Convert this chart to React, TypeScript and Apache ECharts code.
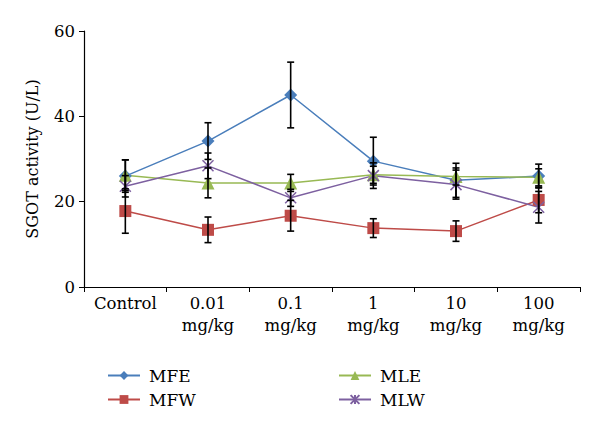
import React, { useEffect, useRef } from "react";
import * as echarts from "echarts";

const categories = ["Control", "0.01\nmg/kg", "0.1\nmg/kg", "1\nmg/kg", "10\nmg/kg", "100\nmg/kg"];
const mfe = [26.0, 34.2, 45.0, 29.5, 25.0, 26.0];
const mfeErr = [3.8, 4.3, 7.7, 5.6, 4.0, 2.8];
const mfw = [17.8, 13.4, 16.7, 13.8, 13.1, 20.4];
const mfwErr = [5.2, 3.0, 3.6, 2.2, 2.4, 3.0];
const mle = [26.2, 24.4, 24.4, 26.3, 25.9, 25.7];
const mleErr = [3.6, 3.5, 2.0, 2.0, 2.0, 2.0];
const mlw = [23.6, 28.4, 20.9, 26.1, 24.0, 18.7];
const mlwErr = [2.5, 3.0, 2.0, 3.0, 3.4, 3.7];

const FONT = "'DejaVu Serif', 'Liberation Serif', serif";

function errSeries(name: string, vals: number[], errs: number[]) {
  return {
    type: "custom",
    name: name + "_err",
    z: 10,
    silent: true,
    data: vals.map((v, i) => [i, v, errs[i]]),
    renderItem: (params: any, api: any) => {
      const x = api.value(0);
      const v = api.value(1);
      const e = api.value(2);
      const top = api.coord([x, v + e]);
      const bot = api.coord([x, v - e]);
      const hw = 3.5;
      const style = { stroke: "#000", lineWidth: 1.6 };
      return {
        type: "group",
        children: [
          { type: "line", shape: { x1: top[0], y1: top[1], x2: bot[0], y2: bot[1] }, style },
          { type: "line", shape: { x1: top[0] - hw, y1: top[1], x2: top[0] + hw, y2: top[1] }, style },
          { type: "line", shape: { x1: bot[0] - hw, y1: bot[1], x2: bot[0] + hw, y2: bot[1] }, style },
        ],
      };
    },
  };
}

export default function App() {
  const ref = useRef<HTMLDivElement>(null);
  useEffect(() => {
    document.body.style.margin = "0";
    const chart = echarts.init(ref.current!, null, { renderer: "svg" });
    const lineStyleW = 1.5;
    const mk = (name: string, data: number[], color: string, symbol: string, size: number, extra: any = {}) => ({
      type: "line",
      name,
      data,
      symbol,
      symbolSize: size,
      z: 5,
      lineStyle: { color, width: lineStyleW },
      itemStyle: { color, ...extra },
    });
    const legendText = { fontFamily: FONT, fontSize: 17, color: "#000", padding: [0, 0, 0, 4] };
    chart.setOption({
      animation: false,
      textStyle: { fontFamily: FONT },
      grid: { left: 84, right: 20, top: 31, bottom: 142 },
      legend: [
        {
          data: ["MFE", "MFW"],
          orient: "vertical",
          left: 102,
          top: 362,
          itemWidth: 32,
          itemHeight: 11,
          itemGap: 7,
          textStyle: legendText,
        },
        {
          data: ["MLE", "MLW"],
          orient: "vertical",
          left: 333,
          top: 362,
          itemWidth: 32,
          itemHeight: 11,
          itemGap: 7,
          textStyle: legendText,
        },
      ],
      xAxis: {
        type: "category",
        data: categories,
        boundaryGap: true,
        axisLine: { lineStyle: { color: "#000", width: 1.2 } },
        axisTick: { show: true, inside: false, length: 5, lineStyle: { color: "#000" } },
        axisLabel: { fontFamily: FONT, fontSize: 16.5, color: "#000", lineHeight: 22, margin: 5, interval: 0 },
      },
      yAxis: {
        type: "value",
        min: 0,
        max: 60,
        interval: 20,
        name: "SGOT activity (U/L)",
        nameLocation: "middle",
        nameGap: 44,
        nameTextStyle: { fontFamily: FONT, fontSize: 16, color: "#000" },
        splitLine: { show: false },
        axisLine: { show: true, lineStyle: { color: "#000", width: 1.2 } },
        axisTick: { show: true, length: 5, lineStyle: { color: "#000" } },
        axisLabel: { fontFamily: FONT, fontSize: 16.5, color: "#000", margin: 9 },
      },
      series: [
        mk("MFE", mfe, "#4a7ebb", "diamond", 13),
        mk("MFW", mfw, "#be4b48", "rect", 12),
        mk("MLE", mle, "#98b954", "triangle", 13),
        mk("MLW", mlw, "#7d60a0", "path://M0,0L10,10M10,0L0,10M5,0L5,10", 11, {
          borderColor: "#7d60a0",
          borderWidth: 1.5,
        }),
        errSeries("MFE", mfe, mfeErr),
        errSeries("MFW", mfw, mfwErr),
        errSeries("MLE", mle, mleErr),
        errSeries("MLW", mlw, mlwErr),
      ],
    });
    return () => chart.dispose();
  }, []);
  return <div ref={ref} style={{ width: 600, height: 429 }} />;
}
